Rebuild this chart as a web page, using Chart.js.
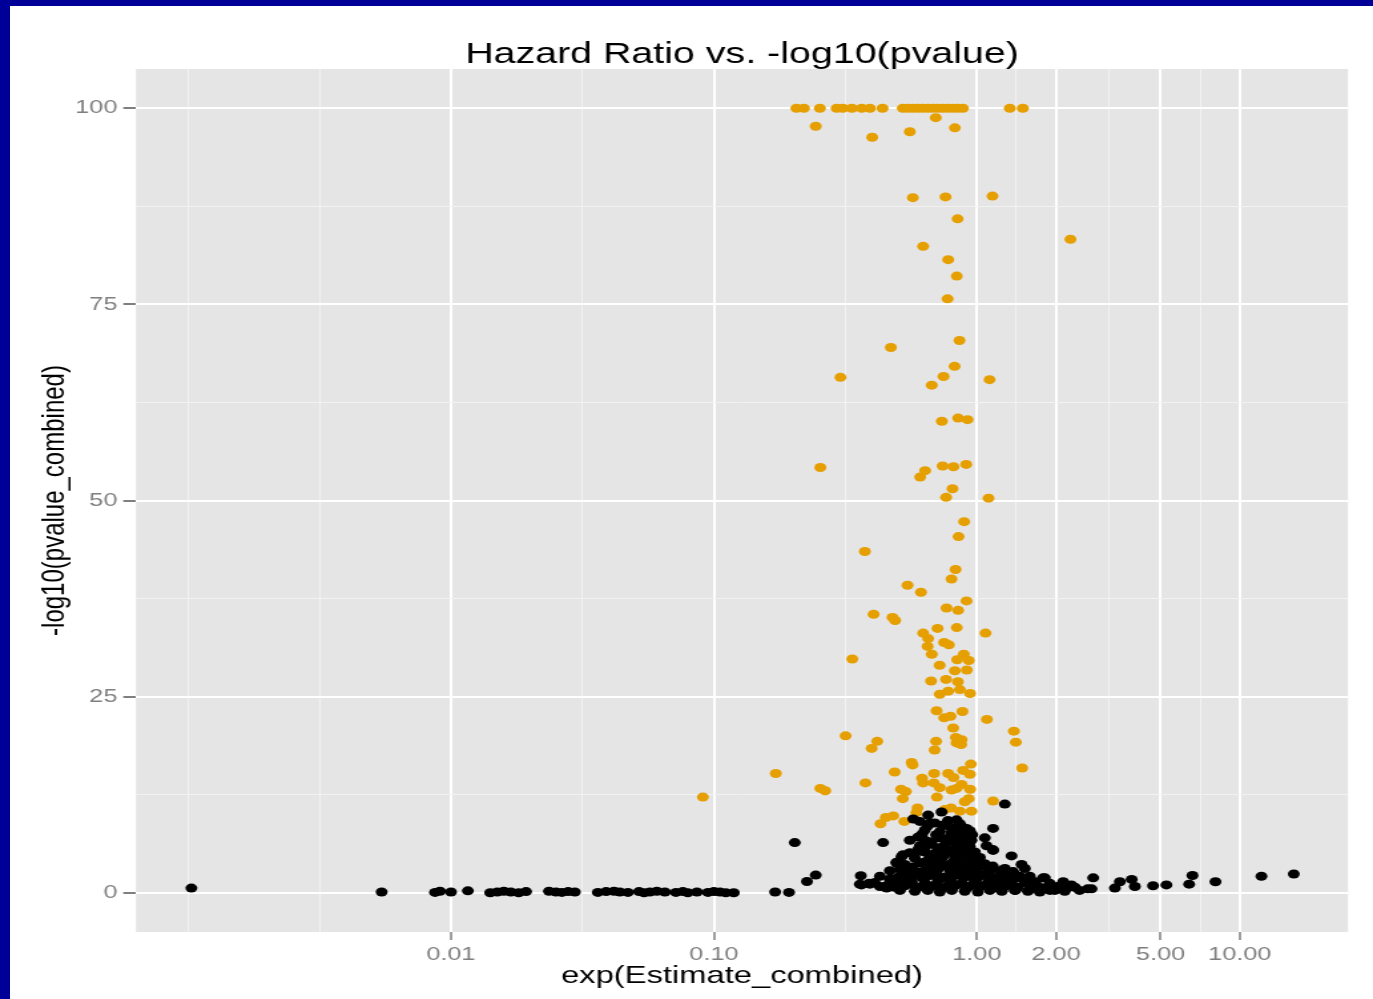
<!DOCTYPE html>
<html>
<head>
<meta charset="utf-8">
<script src="https://cdn.jsdelivr.net/npm/chart.js@4.4.0/dist/chart.umd.min.js"></script>
<style>
  html, body { margin: 0; padding: 0; background: #fff; overflow: hidden; }
  #frame { position: relative; width: 1373px; height: 999px; overflow: hidden; }
  /* the reference plot is stretched sideways, so the canvas is too */
  #chart { display: block; transform: scaleX(1.33043); transform-origin: 0 0; }
  .edge { position: absolute; background: #000099; z-index: 2; }
  #edge-top { left: 0; top: 0; width: 1373px; height: 6px; }
  #edge-left { left: 0; top: 0; width: 10px; height: 999px; }
</style>
</head>
<body>
<div id="frame">
  <canvas id="chart" width="1032" height="999"></canvas>
  <div class="edge" id="edge-top"></div>
  <div class="edge" id="edge-left"></div>
</div>
<script>
// axis breaks
const xMajor = [0.01, 0.1, 1, 2, 5, 10];
const xMajorLabels = ["0.01", "0.10", "1.00", "2.00", "5.00", "10.00"];
const xMinor = [0.001, 0.00316, 0.0316, 0.316, 1.414, 3.162, 7.071];
const yMajor = [0, 25, 50, 75, 100];
const yMinor = [12.5, 37.5, 62.5, 87.5];

// significant hits (orange)
const orangeX = [
  0.206, 0.220, 0.253, 0.293, 0.309, 0.335, 0.365, 0.392, 0.438, 0.523, 0.547, 0.571,
  0.597, 0.623, 0.651, 0.680, 0.711, 0.742, 0.776, 0.811, 0.847, 0.885, 1.335, 1.496,
  0.698, 0.244, 0.825, 0.556, 0.400, 0.571, 0.760, 1.147, 0.845, 2.27,
  0.625, 0.778, 0.839, 0.774, 0.859, 0.471, 0.823, 0.303, 0.747, 0.674,
  1.118, 0.736, 0.849, 0.922, 0.254, 0.741, 0.815, 0.911, 0.636, 0.609,
  0.808, 0.764, 1.108, 0.895, 0.852, 0.375, 0.830, 0.801, 0.545, 0.613,
  0.914, 0.767, 0.849, 0.405, 0.478, 0.489, 0.709, 0.839, 0.625, 1.079,
  0.653, 0.650, 0.751, 0.783, 0.674, 0.336, 0.892, 0.842, 0.932, 0.722,
  0.825, 0.916, 0.670, 0.764, 0.847, 0.862, 0.723, 0.778, 0.943, 0.703,
  0.882, 1.092, 0.751, 0.794, 0.813, 1.383, 1.407, 0.832, 0.875, 0.837,
  0.872, 0.700, 0.691, 0.317, 0.418, 0.398, 0.565, 0.570, 0.949, 1.487,
  0.172, 0.487, 0.688, 0.778, 0.887, 0.941, 0.815, 0.619, 0.625, 0.686,
  0.723, 0.875, 0.377, 0.254, 0.265, 0.515, 0.537, 0.801, 0.837, 0.943,
  0.523, 0.705, 0.900, 0.932, 1.153, 0.595, 0.798, 0.862, 0.954, 0.589,
  0.481, 0.451, 0.430, 0.530, 0.755, 0.0908
];
const orangeY = [
  100, 100, 100, 100, 100, 100, 100, 100, 100, 100, 100, 100,
  100, 100, 100, 100, 100, 100, 100, 100, 100, 100, 100, 100,
  98.8, 97.7, 97.5, 97.0, 96.3, 88.6, 88.7, 88.8, 85.9, 83.3,
  82.4, 80.7, 78.6, 75.7, 70.4, 69.5, 67.1, 65.7, 65.8, 64.7,
  65.4, 60.1, 60.5, 60.3, 54.2, 54.4, 54.3, 54.6, 53.8, 53.0,
  51.5, 50.4, 50.3, 47.3, 45.4, 43.5, 41.2, 40.0, 39.2, 38.3,
  37.2, 36.3, 36.0, 35.5, 35.1, 34.7, 33.7, 33.8, 33.1, 33.1,
  32.4, 31.4, 31.9, 31.6, 30.4, 29.8, 30.4, 29.7, 29.6, 29.0,
  28.3, 28.4, 27.0, 27.2, 26.9, 25.9, 25.3, 25.7, 25.4, 23.2,
  23.1, 22.1, 22.3, 22.5, 21.0, 20.6, 19.2, 19.8, 19.5, 19.1,
  18.9, 19.3, 18.2, 20.0, 19.3, 18.4, 16.6, 16.3, 16.4, 15.9,
  15.2, 15.4, 15.2, 15.2, 15.6, 15.1, 14.7, 14.6, 14.0, 14.0,
  13.4, 13.8, 14.0, 13.3, 13.0, 13.2, 12.9, 13.1, 13.3, 13.2,
  12.0, 12.2, 11.6, 12.0, 11.7, 10.8, 10.8, 10.4, 10.4, 10.2,
  9.8, 9.6, 8.8, 9.1, 10.6, 12.2
];

// everything else (black)
const blackX = [
  // long left tail
  0.00103, 0.00545, 0.00870, 0.00908, 0.0100, 0.0116, 0.0141, 0.0150, 0.0159, 0.0169,
  0.0181, 0.0193, 0.0236, 0.0251, 0.0264, 0.0279, 0.0296, 0.0362, 0.0389, 0.0417,
  0.0439, 0.0471, 0.0519, 0.0542, 0.0571, 0.0607, 0.0651, 0.0717, 0.0762, 0.0796,
  0.0862, 0.0949, 0.100, 0.1054, 0.111, 0.119, 0.171, 0.193,
  // scattered
  0.203, 0.226, 0.244, 0.362, 0.359, 0.389, 0.454, 0.474, 0.495, 0.524,
  1.278, 0.573, 0.653, 0.734, 0.837, 1.153, 0.663, 0.789, 0.914, 0.440,
  0.556, 0.634, 0.713, 0.849, 0.954, 1.072, 1.089, 1.153, 1.355, 1.479,
  1.522, 1.278, 1.374, 1.787, 2.13, 0.556, 0.517, 0.495, 0.634, 0.723,
  0.837, 0.364, 0.392, 0.447, 0.467, 0.502, 0.540, 1.151, 1.457, 1.355,
  1.121, 1.814, 2.29, 2.77, 2.73, 2.64, 3.35, 3.50, 3.88, 3.99,
  4.68, 5.26, 6.61, 6.42, 8.08, 12.09, 16.05, 1.223, 1.59, 1.736,
  1.895, 2.07, 2.22, 1.40,
  // dense core
  0.607, 0.692, 0.776, 0.862,
  0.65, 0.74, 0.88,
  0.634, 0.723, 0.825, 0.941,
  0.62, 0.70, 0.80, 0.87, 0.96,
  0.597, 0.755, 0.900,
  0.66, 0.79, 0.89,
  0.607, 0.674, 0.755, 0.847, 0.941,
  0.60, 0.71, 0.81, 0.92,
  0.634, 0.692, 0.776, 0.877, 0.983,
  0.58, 0.75, 0.85, 0.95,
  0.581, 0.663, 0.736, 0.825, 0.924, 1.027,
  0.64, 0.72, 0.81, 0.90, 1.00,
  0.532, 0.607, 0.692, 0.776, 0.862, 0.957, 1.072,
  0.57, 0.66, 0.74, 0.83, 0.92, 1.03, 1.15,
  0.467, 0.510, 0.566, 0.634, 0.711, 0.789, 0.877, 0.983, 1.121, 1.223,
  0.53, 0.61, 0.70, 0.81, 0.91, 1.01, 1.10, 1.33,
  0.428, 0.581, 0.663, 0.755, 0.847, 0.941, 1.045, 1.223, 1.59,
  0.47, 0.55, 0.62, 0.72, 0.80, 0.89, 1.00, 1.15, 1.30, 1.44,
  0.409, 0.510, 0.566, 0.634, 0.711, 0.789, 0.877, 0.983, 1.101, 1.223, 1.359, 1.522, 1.662, 1.895,
  0.46, 0.56, 0.68, 0.78, 0.87, 0.96, 1.06, 1.19, 1.35, 1.70,
  0.428, 0.488, 0.532, 0.597, 0.663, 0.736, 0.825, 0.924, 1.027, 1.140, 1.278, 1.432, 1.59, 1.814, 2.03, 2.36,
  0.510, 0.581, 0.651, 0.723, 0.803, 0.900, 1.009, 1.121, 1.245, 1.395, 1.563, 1.736, 1.980, 2.16, 2.46
];
const blackY = [
  0.6, 0.1, 0.05, 0.2, 0.1, 0.25, 0.0, 0.1, 0.2, 0.1,
  0.0, 0.15, 0.2, 0.1, 0.05, 0.15, 0.1, 0.05, 0.15, 0.2,
  0.1, 0.05, 0.15, 0.0, 0.1, 0.2, 0.1, 0.05, 0.15, 0.0,
  0.1, 0.05, 0.15, 0.1, 0.0, 0.0, 0.1, 0.05,
  6.4, 1.44, 2.25, 2.17, 1.1, 1.22, 0.6, 1.66, 3.78, 4.84,
  11.3, 9.4, 9.9, 10.3, 9.3, 8.2, 8.9, 8.4, 8.2, 6.4,
  6.7, 6.7, 7.0, 7.2, 6.7, 7.0, 6.0, 5.4, 4.7, 3.6,
  3.1, 3.1, 2.7, 1.9, 1.4, 5.1, 4.6, 3.9, 5.7, 5.7,
  5.7, 1.0, 1.1, 0.8, 1.7, 2.0, 2.2, 5.5, 2.1, 2.6,
  2.2, 1.9, 1.0, 1.9, 0.5, 0.5, 0.6, 1.4, 1.7, 0.8,
  0.9, 1.0, 2.2, 1.1, 1.4, 2.1, 2.4, 0.5, 0.4, 0.6,
  0.3, 0.5, 0.7, 0.3,
  9.1, 8.9, 9.2, 8.8,
  8.5, 8.6, 8.4,
  8.0, 7.8, 8.1, 7.9,
  7.5, 7.4, 7.6, 7.5, 7.4,
  7.1, 6.9, 7.2,
  6.5, 6.6, 6.4,
  6.0, 6.2, 6.1, 6.3, 5.9,
  5.6, 5.7, 5.5, 5.6,
  5.2, 5.0, 5.3, 5.1, 5.2,
  4.9, 4.8, 4.9, 4.8,
  4.4, 4.6, 4.4, 4.5, 4.3, 4.5,
  4.0, 4.1, 3.9, 4.0, 4.1,
  3.6, 3.8, 3.7, 3.5, 3.8, 3.6, 3.7,
  3.3, 3.2, 3.4, 3.3, 3.2, 3.3, 3.4,
  2.8, 3.0, 2.9, 2.8, 3.0, 2.9, 2.7, 3.0, 2.9, 2.8,
  2.5, 2.6, 2.4, 2.5, 2.6, 2.4, 2.5, 2.5,
  2.1, 2.3, 2.2, 2.0, 2.3, 2.1, 2.2, 2.0, 2.1,
  1.8, 1.7, 1.9, 1.8, 1.7, 1.9, 1.8, 1.7, 1.8, 1.9,
  1.3, 1.5, 1.4, 1.3, 1.5, 1.4, 1.2, 1.5, 1.3, 1.4, 1.5, 1.3, 1.4, 1.2,
  1.0, 1.1, 0.9, 1.0, 1.1, 1.0, 0.9, 1.1, 1.0, 0.9,
  0.8, 0.7, 0.9, 0.7, 0.8, 0.6, 0.9, 0.7, 0.8, 0.6, 0.8, 0.7, 0.9, 0.6, 0.8, 0.7,
  0.3, 0.2, 0.3, 0.1, 0.3, 0.2, 0.1, 0.3, 0.2, 0.3, 0.2, 0.1, 0.3, 0.2, 0.3
];

const toPoints = (xs, ys) => xs.map((x, i) => ({ x: x, y: ys[i] }));
const near = (list, v) => list.findIndex(m => Math.abs(m - v) <= Math.abs(m) * 1e-6 + 1e-9);
const isMajorX = v => near(xMajor, v) >= 0;
const isMajorY = v => near(yMajor, v) >= 0;

Chart.defaults.font.family = "'Liberation Sans', Arial, Helvetica, sans-serif";

// grey panel behind the grid
const panelBg = {
  id: "panelBg",
  beforeDraw(chart) {
    const { ctx, chartArea: a } = chart;
    ctx.save();
    ctx.fillStyle = "#E5E5E5";
    ctx.fillRect(a.left, a.top, a.right - a.left, a.bottom - a.top);
    ctx.restore();
  },
};

const ctx = document.getElementById("chart");

const myChart = new Chart(ctx, {
  type: "scatter",
  data: {
    datasets: [
      {
        label: "other",
        data: toPoints(blackX, blackY),
        backgroundColor: "#000000",
        borderWidth: 0,
        pointRadius: 4.5,
        pointHoverRadius: 4.5,
      },
      {
        label: "significant",
        data: toPoints(orangeX, orangeY),
        backgroundColor: "#E69F00",
        borderWidth: 0,
        pointRadius: 4.5,
        pointHoverRadius: 4.5,
      },
    ],
  },
  options: {
    responsive: false,
    animation: false,
    events: [],
    layout: { padding: { left: 0, right: 18.8, top: 0, bottom: 0 } },
    scales: {
      x: {
        type: "logarithmic",
        bounds: "data",
        min: 0.000634,
        max: 25.8,
        afterBuildTicks: (s) => {
          s.ticks = xMinor.concat(xMajor).sort((a, b) => a - b).map(v => ({ value: v }));
        },
        afterFit: (s) => { s.height = 67; },
        border: { display: false },
        grid: {
          color: (c) => (c.tick && isMajorX(c.tick.value) ? "#FFFFFF" : "#F2F2F2"),
          lineWidth: (c) => (c.tick && isMajorX(c.tick.value) ? 2 : 1),
          tickColor: (c) => (c.tick && isMajorX(c.tick.value) ? "#7F7F7F" : "rgba(0,0,0,0)"),
          tickLength: 8,
          tickWidth: 1.5,
        },
        ticks: {
          color: "#7F7F7F",
          font: { size: 19 },
          padding: 3,
          autoSkip: false,
          maxRotation: 0,
          callback: (v) => {
            const i = near(xMajor, v);
            return i >= 0 ? xMajorLabels[i] : "";
          },
        },
        title: {
          display: true,
          text: "exp(Estimate_combined)",
          color: "#000000",
          font: { size: 24.6 },
          padding: { top: 0, bottom: 8.2 },
        },
      },
      y: {
        min: -5,
        max: 105,
        afterBuildTicks: (s) => {
          s.ticks = yMinor.concat(yMajor).sort((a, b) => a - b).map(v => ({ value: v }));
        },
        afterFit: (s) => { s.width = 102.2; },
        border: { display: false },
        grid: {
          color: (c) => (c.tick && isMajorY(c.tick.value) ? "#FFFFFF" : "#F2F2F2"),
          lineWidth: (c) => (c.tick && isMajorY(c.tick.value) ? 2 : 1),
          tickColor: (c) => (c.tick && isMajorY(c.tick.value) ? "#7F7F7F" : "rgba(0,0,0,0)"),
          tickLength: 9.5,
          tickWidth: 2,
        },
        ticks: {
          color: "#7F7F7F",
          font: { size: 19 },
          padding: 4.5,
          autoSkip: false,
          callback: (v) => (isMajorY(v) ? String(v) : ""),
        },
        title: {
          display: true,
          text: "-log10(pvalue_combined)",
          color: "#000000",
          font: { size: 24 },
          padding: { top: 27, bottom: 0 },
        },
      },
    },
    plugins: {
      legend: { display: false },
      tooltip: { enabled: false },
      title: {
        display: true,
        text: "Hazard Ratio vs. -log10(pvalue)",
        color: "#000000",
        fullSize: false,
        font: { size: 29.6, weight: "normal", lineHeight: 0.9 },
        padding: { top: 41.7, bottom: 0.66 },
      },
    },
  },
  plugins: [panelBg],
});
</script>
</body>
</html>
